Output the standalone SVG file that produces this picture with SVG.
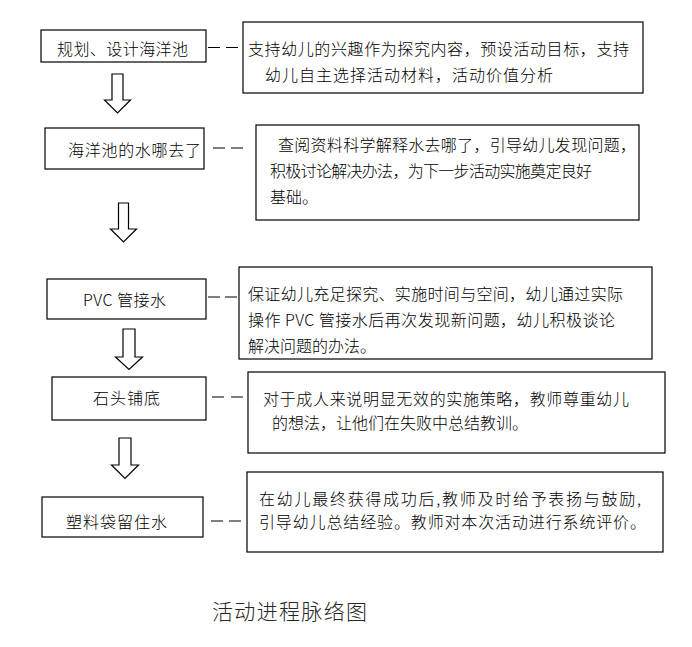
<svg xmlns="http://www.w3.org/2000/svg" width="692" height="647" viewBox="0 0 692 647">
<style>
.box{fill:#fff;stroke:#000;stroke-width:1.2}
.t{font-family:"Noto Sans CJK SC","Liberation Sans",sans-serif;font-size:16px;font-weight:300;fill:#000}
.title{font-family:"Noto Sans CJK SC","Liberation Sans",sans-serif;font-size:21px;font-weight:300;fill:#262626}
.dash{stroke:#000;stroke-width:1.1;fill:none}
.arrow{fill:#fff;stroke:#000;stroke-width:1.2;stroke-linejoin:miter}
</style>
<rect width="692" height="647" fill="#fff"/>
<g id="connectors">
<path class="dash" d="M208 47.5h12M226 47.5h12"/>
<path class="dash" d="M213 148h12M231 148h12"/>
<path class="dash" d="M208 297h12M225 297h12"/>
<path class="dash" d="M212 397h12M231 397h12"/>
<path class="dash" d="M211 521h12M229 521h12"/>
<polygon class="arrow" points="112,74 123,74 123,100 130.5,100 117.5,113 104.5,100 112,100"/>
<polygon class="arrow" points="118.5,203 128.5,203 128.5,229 136.5,229 123.5,242 110.5,229 118.5,229"/>
<polygon class="arrow" points="123,329 135,329 135,357 142.5,357 129,369.5 115.5,357 123,357"/>
<polygon class="arrow" points="119,438 131,438 131,465 138.5,465 125,478.5 111.5,465 119,465"/>
</g>
<g id="n1">
<rect class="box" x="41" y="30" width="165" height="32"/>
<text class="t" x="57" y="54.5" textLength="131" lengthAdjust="spacing">规划、设计海洋池</text>
</g>
<g id="d1">
<rect class="box" x="243" y="22" width="400" height="71"/>
<text class="t" x="248" y="54.5" textLength="381" lengthAdjust="spacing">支持幼儿的兴趣作为探究内容，预设活动目标，支持</text>
<text class="t" x="265" y="80.5" textLength="288" lengthAdjust="spacing">幼儿自主选择活动材料，活动价值分析</text>
</g>
<g id="n2">
<rect class="box" x="45" y="128" width="159" height="41"/>
<text class="t" x="68" y="155.5" textLength="133" lengthAdjust="spacing">海洋池的水哪去了</text>
</g>
<g id="d2">
<rect class="box" x="256" y="125" width="383" height="95"/>
<text class="t" x="278" y="151" textLength="358" lengthAdjust="spacing">查阅资料科学解释水去哪了，引导幼儿发现问题，</text>
<text class="t" x="270" y="177" textLength="322" lengthAdjust="spacing">积极讨论解决办法，为下一步活动实施奠定良好</text>
<text class="t" x="270" y="203">基础。</text>
</g>
<g id="n3">
<rect class="box" x="47" y="279" width="159" height="40"/>
<text class="t" x="83" y="305.5" textLength="83" lengthAdjust="spacing">PVC 管接水</text>
</g>
<g id="d3">
<rect class="box" x="239" y="267" width="413" height="92"/>
<text class="t" x="248" y="300" textLength="375" lengthAdjust="spacing">保证幼儿充足探究、实施时间与空间，幼儿通过实际</text>
<text class="t" x="248" y="326" textLength="367" lengthAdjust="spacing">操作 PVC 管接水后再次发现新问题，幼儿积极谈论</text>
<text class="t" x="248" y="352">解决问题的办法。</text>
</g>
<g id="n4">
<rect class="box" x="52" y="377" width="154" height="43"/>
<text class="t" x="93" y="404" textLength="67" lengthAdjust="spacing">石头铺底</text>
</g>
<g id="d4">
<rect class="box" x="248" y="372" width="417" height="81"/>
<text class="t" x="263" y="405" textLength="366" lengthAdjust="spacing">对于成人来说明显无效的实施策略，教师尊重幼儿</text>
<text class="t" x="272" y="429">的想法，让他们在失败中总结教训。</text>
</g>
<g id="n5">
<rect class="box" x="42" y="497" width="161" height="40"/>
<text class="t" x="66" y="527.5" textLength="101" lengthAdjust="spacing">塑料袋留住水</text>
</g>
<g id="d5">
<rect class="box" x="247" y="472" width="416" height="80"/>
<text class="t" x="259" y="505" textLength="382" lengthAdjust="spacing">在幼儿最终获得成功后,教师及时给予表扬与鼓励,</text>
<text class="t" x="259" y="528" textLength="387" lengthAdjust="spacing">引导幼儿总结经验。教师对本次活动进行系统评价。</text>
</g>
<text class="title" x="212" y="619" textLength="155" lengthAdjust="spacing">活动进程脉络图</text>
</svg>
